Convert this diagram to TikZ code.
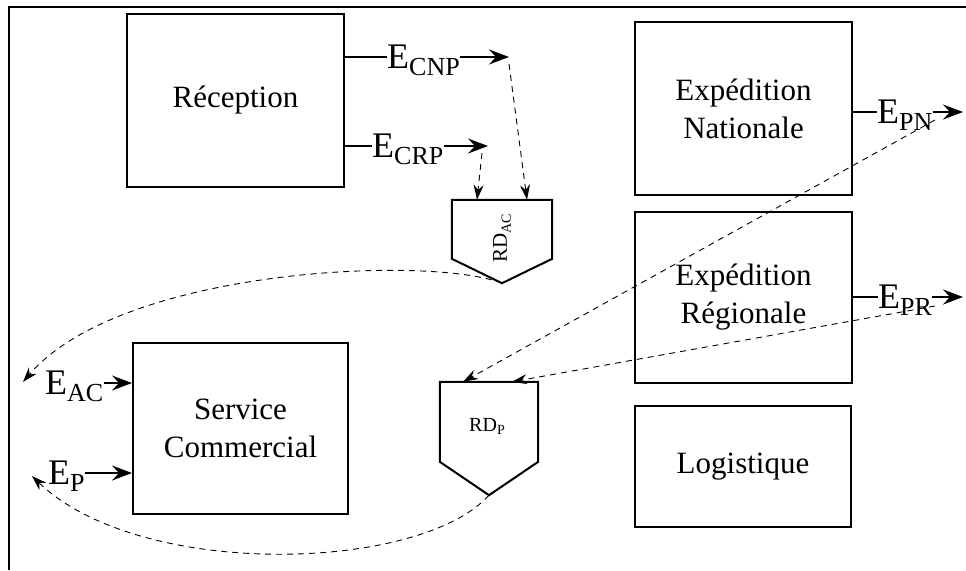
\documentclass[tikz,border=0pt]{standalone}
\usepackage{fontspec}
\setmainfont{Liberation Serif}
\usetikzlibrary{arrows.meta,calc}
\newcommand\ELab[1]{{\fontsize{36}{40}\selectfont E\raisebox{-7pt}{\fontsize{26}{30}\selectfont #1}}}
\begin{document}
\begin{tikzpicture}[x=1pt,y=-1pt,
  box/.style={draw,line width=2pt,inner sep=0pt,align=center,font=\fontsize{31}{38}\selectfont},
  lab/.style={inner sep=0pt,anchor=west},
  wire/.style={line width=2pt},
  arr/.style={line width=2pt,-{Stealth[length=20pt,width=15pt,inset=7pt]}},
  flow/.style={line width=0.9pt,dash pattern=on 6pt off 5pt,-{Stealth[length=15pt,width=10pt,inset=5pt]}},
  pent/.style={line width=2pt,line join=miter}]
\useasboundingbox (0,0) rectangle (966,570);
\draw[line width=2.5pt] (9,570) -- (9,7) -- (966,7);

% boxes
\node[box,minimum width=217pt,minimum height=173pt] (rec) at (235.5,100.5) {Réception};
\node[box,minimum width=217pt,minimum height=173pt] (expn) at (743.5,108.5) {Expédition\\Nationale};
\node[box,minimum width=217pt,minimum height=171pt] (expr) at (743.5,297.5) {Expédition\\Régionale};
\node[box,minimum width=216pt,minimum height=121pt] (logi) at (743,466.5) {Logistique};
\node[box,minimum width=215pt,minimum height=171pt] (serv) at (240.5,428.5) {Service\\Commercial};

% pentagons
\node[minimum width=100pt,minimum height=83pt,inner sep=0pt] (rdac) at (502,241.5) {};
\draw[pent] (rdac.north west) -- (rdac.north east) -- ($(rdac.north east)+(0,59)$) -- (rdac.south) -- ($(rdac.north west)+(0,59)$) -- cycle;
\node[rotate=90,inner sep=0pt] (rdactxt) at (502,238) {\fontsize{21}{24}\selectfont RD\raisebox{-4pt}{\fontsize{14}{16}\selectfont AC}};

\node[minimum width=98pt,minimum height=113pt,inner sep=0pt] (rdp) at (489,438.5) {};
\draw[pent] (rdp.north west) -- (rdp.north east) -- ($(rdp.north east)+(0,80)$) -- (rdp.south) -- ($(rdp.north west)+(0,80)$) -- cycle;
\node[inner sep=0pt] (rdptxt) at (487,426) {\fontsize{20}{24}\selectfont RD\raisebox{-3pt}{\fontsize{14}{16}\selectfont P}};

% labels
\node[lab] (ecnp) at (387,60) {\ELab{CNP}};
\node[lab] (ecrp) at (372,149) {\ELab{CRP}};
\node[lab] (epn) at (877,115) {\ELab{PN}};
\node[lab] (epr) at (878,300) {\ELab{PR}};
\node[lab] (eac) at (45,386) {\ELab{AC}};
\node[lab] (ep) at (48,476) {\ELab{P}};

% solid connectors
\draw[wire] (rec.east |- 0,57) -- (ecnp.west |- 0,57);
\draw[arr] (ecnp.east |- 0,57) -- (509,57) coordinate (cnpT);
\draw[wire] (rec.east |- 0,146) -- (ecrp.west |- 0,146);
\draw[arr] (ecrp.east |- 0,146) -- (488,146) coordinate (crpT);
\draw[wire] (expn.east |- 0,112) -- (epn.west |- 0,112);
\draw[arr] (epn.east |- 0,112) -- (963,112) coordinate (pnT);
\draw[wire] (expr.east |- 0,297) -- (epr.west |- 0,297);
\draw[arr] (epr.east |- 0,297) -- (963,297) coordinate (prT);
\draw[arr] (eac.east |- 0,383) -- (serv.west |- 0,383);
\draw[arr] (ep.east |- 0,473) -- (serv.west |- 0,473);

% dashed flows
\coordinate (cnpS) at (509,64);
\coordinate (crpS) at (482,153);
\coordinate (pnS) at (935,120);
\coordinate (prS) at (935,306);
\coordinate (eacT) at (23,382);
\coordinate (epT) at (32,476);
\draw[flow] (cnpS) -- (rdac.north -| 527,0);
\draw[flow] (crpS) -- (rdac.north -| 477,0);
\draw[flow] (rdac.south) .. controls (430,255) and (120,268) .. (eacT);
\draw[flow] (pnS) -- (rdp.north -| 463,0);
\draw[flow] (prS) -- (rdp.north -| 512,0);
\draw[flow] (rdp.south) .. controls (420,572) and (140,580) .. (epT);
\end{tikzpicture}
\end{document}
